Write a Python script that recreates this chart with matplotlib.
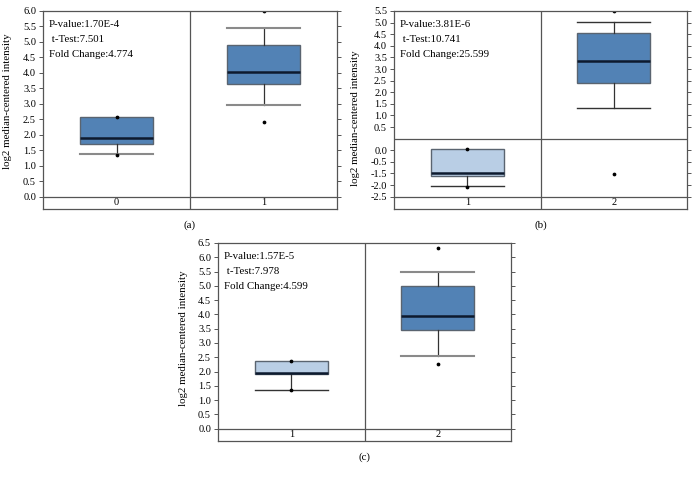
import numpy as np
import matplotlib
matplotlib.use("Agg")
import matplotlib.pyplot as plt

plt.rcParams['font.family'] = ['Liberation Serif', 'DejaVu Serif']

DARK = '#5282b5'
LIGHT = '#b9cee5'
EDGE = '#5a6470'
GRID = '#555555'
CAP_GRAY = '#8a8a8a'
CAP_DARK = '#333333'

# panel (a)
a_groups = ['0', '1']
a_q1 = [1.70, 3.65]
a_med = [1.91, 4.02]
a_q3 = [2.56, 4.91]
a_lo = [1.38, 2.96]
a_hi = [2.56, 5.45]
a_out = [[2.56, 1.36], [6.0, 2.40]]
a_stats = ['P-value:1.70E-4', ' t-Test:7.501', 'Fold Change:4.774']

# panel (b)
b_groups = ['1', '2']
b_q1 = [-1.60, 2.40]
b_med = [-1.46, 3.36]
b_q3 = [-0.46, 4.54]
b_lo = [-2.04, 1.33]
b_hi = [-0.46, 5.02]
b_out = [[-0.46, -2.07], [5.50, -1.52]]
b_stats = ['P-value:3.81E-6', ' t-Test:10.741', 'Fold Change:25.599']
b_ticks = [5.5, 5.0, 4.5, 4.0, 3.5, 3.0, 2.5, 2.0, 1.5, 1.0, 0.5,
           -0.5, -1.0, -1.5, -2.0, -2.5]
b_ticklabels = ['5.5', '5.0', '4.5', '4.0', '3.5', '3.0', '2.5', '2.0', '1.5',
                '1.0', '0.5', '0.0', '-0.5', '-1.5', '-2.0', '-2.5']

# panel (c)
c_groups = ['1', '2']
c_q1 = [1.90, 3.47]
c_med = [1.95, 3.94]
c_q3 = [2.37, 5.00]
c_lo = [1.37, 2.53]
c_hi = [2.37, 5.47]
c_out = [[2.37, 1.34], [6.34, 2.25]]
c_stats = ['P-value:1.57E-5', ' t-Test:7.978', 'Fold Change:4.599']


def draw_panel(ax, groups, q1, med, q3, lo, hi, out, colors, capcols, stats,
               ylim, band_top, ticks, ticklabels, letter, ylab_pos, extra_lines=()):
    stats_list = []
    for i in range(len(groups)):
        stats_list.append(dict(q1=q1[i], med=med[i], q3=q3[i], whislo=lo[i],
                               whishi=hi[i], fliers=out[i]))
    bp = ax.bxp(stats_list, positions=range(len(groups)), widths=0.5,
                capwidths=0.5, patch_artist=True, showfliers=True,
                boxprops=dict(edgecolor=EDGE, linewidth=1.0),
                medianprops=dict(color='#0d1a2e', linewidth=1.8),
                whiskerprops=dict(color='#333333', linewidth=0.9),
                capprops=dict(color=CAP_GRAY, linewidth=1.5),
                flierprops=dict(marker='o', markersize=1.7, markerfacecolor='black',
                                markeredgecolor='black'))
    for patch, col in zip(bp['boxes'], colors):
        patch.set_facecolor(col)
    for i in range(len(groups)):
        for cap in bp['caps'][2 * i:2 * i + 2]:
            cap.set_color(capcols[i])
            if capcols[i] == CAP_DARK:
                cap.set_linewidth(1.0)
        # no upper whisker when the box reaches the maximum
        if hi[i] == q3[i]:
            bp['caps'][2 * i + 1].set_visible(False)

    ax.set_xlim(-0.5, len(groups) - 0.5)
    ax.set_ylim(*ylim)
    ax.axvline(0.5, color=GRID, linewidth=0.9)
    ax.axhline(band_top, color=GRID, linewidth=0.9)
    for y in extra_lines:
        ax.axhline(y, color=GRID, linewidth=0.9)

    ymid = (ylim[0] + band_top) / 2
    for i, g in enumerate(groups):
        ax.text(i, ymid, g, ha='center', va='center', fontsize=7.5)

    ax.set_xticks([])
    ax.set_yticks(ticks)
    ax.set_yticklabels(ticklabels)
    ax.tick_params(axis='y', which='both', left=True, right=True, direction='out',
                   length=3, width=0.7, color=GRID, labelsize=7.5, pad=2)
    for sp in ax.spines.values():
        sp.set_color(GRID)
        sp.set_linewidth(0.9)

    ax.set_ylabel('log2 median-centered intensity', fontsize=7.8)
    ax.yaxis.set_label_coords(ylab_pos[0], ylab_pos[1])

    for txt, yy in zip(stats, [0.932, 0.857, 0.782]):
        ax.text(0.02, yy, txt, transform=ax.transAxes, ha='left', va='center',
                fontsize=7.8)

    ax.text(0.5, -0.08, letter, transform=ax.transAxes, ha='center', va='center',
            fontsize=7.8)


fig = plt.figure(figsize=(6.99, 4.78), dpi=100)
ax_a = fig.add_axes([43 / 699, 1 - 209 / 478, 294 / 699, 198 / 478])
ax_b = fig.add_axes([394 / 699, 1 - 209 / 478, 293 / 699, 198 / 478])
ax_c = fig.add_axes([218 / 699, 1 - 441 / 478, 293 / 699, 198 / 478])

draw_panel(ax_a, a_groups, a_q1, a_med, a_q3, a_lo, a_hi, a_out, [DARK, DARK],
           [CAP_GRAY, CAP_GRAY], a_stats, (-0.40, 6.0), 0.0, np.arange(0, 6.01, 0.5),
           [f'{v:.1f}' for v in np.arange(0, 6.01, 0.5)], '(a)', (-0.105, 0.545))

draw_panel(ax_b, b_groups, b_q1, b_med, b_q3, b_lo, b_hi, b_out, [LIGHT, DARK],
           [CAP_DARK, CAP_DARK], b_stats, (-3.03, 5.5), -2.5, b_ticks, b_ticklabels,
           '(b)', (-0.116, 0.46), extra_lines=(0.0,))

draw_panel(ax_c, c_groups, c_q1, c_med, c_q3, c_lo, c_hi, c_out, [LIGHT, DARK],
           [CAP_DARK, CAP_GRAY], c_stats, (-0.43, 6.5), 0.0, np.arange(0, 6.51, 0.5),
           [f'{v:.1f}' for v in np.arange(0, 6.51, 0.5)], '(c)', (-0.102, 0.52))

fig.savefig('out.png', dpi=100, facecolor='white')
